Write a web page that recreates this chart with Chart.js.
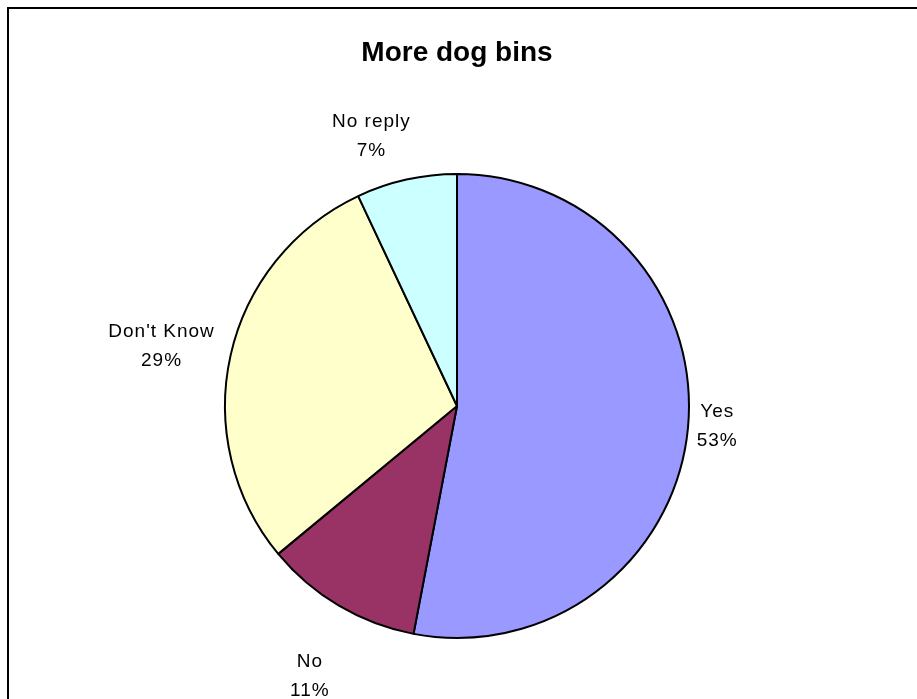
<!DOCTYPE html>
<html>
<head>
<meta charset="utf-8">
<script src="https://cdn.jsdelivr.net/npm/chart.js@4.4.1/dist/chart.umd.min.js"></script>
<style>
  html, body { margin: 0; padding: 0; background: #fff; }
  #wrap { width: 917px; height: 699px; position: relative; }
</style>
</head>
<body>
<div id="wrap"><canvas id="pieChart" width="917" height="699"></canvas></div>
<script>
const categories = ['Yes', 'No', "Don't Know", 'No reply'];
const shares = [53, 11, 29, 7];
const sliceColors = ['#9999FF', '#993366', '#FFFFCC', '#CCFFFF'];

// label placement relative to the pie: radius factor and small angle tweak (deg)
const labelPlace = [
    { k: 1.125, turn: -1 },
    { k: 1.325, turn: -2 },
    { k: 1.30, turn: -1 },
    { k: 1.22, turn: -5 }
];

const frameAndLabels = {
    id: 'frameAndLabels',
    afterDraw(chart) {
        const ctx = chart.ctx;
        ctx.save();
        // chart frame (only top and left edges show)
        ctx.strokeStyle = '#000';
        ctx.lineWidth = 2;
        ctx.beginPath();
        ctx.moveTo(8, 699);
        ctx.lineTo(8, 8);
        ctx.lineTo(917, 8);
        ctx.stroke();

        // title
        ctx.fillStyle = '#000';
        ctx.textAlign = 'center';
        ctx.textBaseline = 'middle';
        ctx.font = 'bold 28px "Liberation Sans", Arial, sans-serif';
        ctx.fillText('More dog bins', 457, 53);

        // slice labels
        ctx.font = '19px "Liberation Sans", Arial, sans-serif';
        ctx.letterSpacing = '1px';
        const meta = chart.getDatasetMeta(0);
        meta.data.forEach(function (arc, i) {
            const p = labelPlace[i];
            const mid = (arc.startAngle + arc.endAngle) / 2 + p.turn * Math.PI / 180;
            const d = arc.outerRadius * p.k;
            const x = arc.x + Math.cos(mid) * d;
            const y = arc.y + Math.sin(mid) * d;
            ctx.fillText(categories[i], x, y - 14);
            ctx.fillText(shares[i] + '%', x, y + 15);
        });
        ctx.restore();
    }
};

const ctx = document.getElementById('pieChart').getContext('2d');
const pieChart = new Chart(ctx, {
    type: 'pie',
    data: {
        labels: categories,
        datasets: [{
            data: shares,
            backgroundColor: sliceColors,
            borderColor: '#000',
            borderWidth: 2
        }]
    },
    options: {
        responsive: false,
        animation: false,
        radius: 232,
        layout: { padding: { left: 0, right: 3, top: 113, bottom: 0 } },
        plugins: {
            legend: { display: false },
            title: { display: false },
            tooltip: { enabled: false }
        }
    },
    plugins: [frameAndLabels]
});
</script>
</body>
</html>
